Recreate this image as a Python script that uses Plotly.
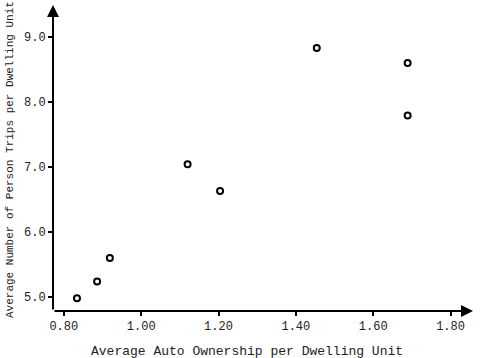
import plotly.graph_objects as go

auto_ownership = [0.834, 0.886, 0.919, 1.120, 1.204, 1.454, 1.689, 1.689]
person_trips = [4.98, 5.24, 5.60, 7.04, 6.63, 8.83, 8.60, 7.79]

x_ticks = [0.80, 1.00, 1.20, 1.40, 1.60, 1.80]
x_tick_labels = ["0.80", "1.00", "1.20", "1.40", "1.60", "1.80"]
y_ticks = [5.0, 6.0, 7.0, 8.0, 9.0]
y_tick_labels = ["5.0", "6.0", "7.0", "8.0", "9.0"]

x_title = "Average Auto Ownership per Dwelling Unit"
y_title = "Average Number of Person Trips per Dwelling Unit"

FONT = "Liberation Mono"
x_range = [0.772, 1.858]
y_range = [4.785, 9.49]

L, R, T, B = 53, 7, 5, 47
W, H = 480, 358
PW, PH = W - L - R, H - T - B

fig = go.Figure()
fig.add_trace(go.Scatter(
    x=auto_ownership, y=person_trips, mode="markers",
    marker=dict(symbol="circle-open", size=6, color="black", line=dict(width=2, color="black")),
    showlegend=False, hoverinfo="skip"))

# axis lines with arrows
fig.add_annotation(x=x_range[1], y=y_range[0], ax=x_range[0], ay=y_range[0],
                   xref="x", yref="y", axref="x", ayref="y", text="",
                   showarrow=True, arrowhead=2, arrowsize=1.2, arrowwidth=2, arrowcolor="black")
fig.add_annotation(x=x_range[0], y=y_range[1], ax=x_range[0], ay=y_range[0],
                   xref="x", yref="y", axref="x", ayref="y", text="",
                   showarrow=True, arrowhead=2, arrowsize=1.2, arrowwidth=2, arrowcolor="black")

# axis titles positioned in pixels relative to plot area
fig.add_annotation(x=(247 - L) / PW, y=-(351 - (H - B)) / PH, xref="paper", yref="paper",
                   text=x_title, showarrow=False, xanchor="center", yanchor="middle",
                   font=dict(family=FONT, size=13, color="#222"))
fig.add_annotation(x=-(L - 10) / PW, y=((H - B) - 160) / PH, xref="paper", yref="paper",
                   text=y_title, showarrow=False, textangle=-90, xanchor="center", yanchor="middle",
                   font=dict(family=FONT, size=11, color="#222"))

fig.update_layout(
    width=W, height=H,
    margin=dict(l=L, r=R, t=T, b=B, autoexpand=False),
    paper_bgcolor="white", plot_bgcolor="white",
    font=dict(family=FONT, size=12, color="#222"),
    xaxis=dict(range=x_range, tickvals=x_ticks, ticktext=x_tick_labels, automargin=False,
               showgrid=False, zeroline=False, showline=False,
               ticks="outside", ticklen=4, tickwidth=1.5, tickcolor="black",
               tickfont=dict(family=FONT, size=12, color="#222")),
    yaxis=dict(range=y_range, tickvals=y_ticks, ticktext=y_tick_labels, automargin=False,
               showgrid=False, zeroline=False, showline=False,
               ticks="outside", ticklen=4, tickwidth=1.5, tickcolor="black",
               tickfont=dict(family=FONT, size=12, color="#222")),
)

fig.write_html("out.html", config={"displayModeBar": False},
               post_script="document.body.style.margin='0';document.body.style.overflow='hidden';")
